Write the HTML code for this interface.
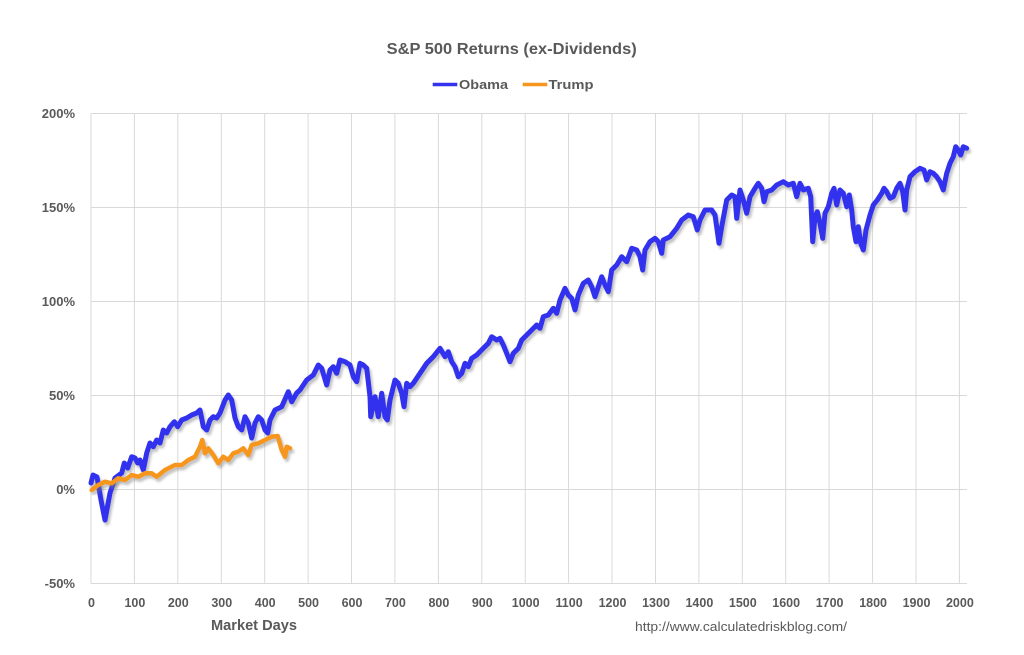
<!DOCTYPE html>
<html>
<head>
<meta charset="utf-8">
<style>
  html,body{margin:0;padding:0;background:#fff;}
  svg{display:block;}
  text{font-family:"Liberation Sans",Arial,sans-serif;fill:#595959;}
</style>
</head>
<body>
<svg width="1024" height="655" viewBox="0 0 1024 655" xmlns="http://www.w3.org/2000/svg">
  <defs>
    <filter id="sh" x="-5%" y="-5%" width="110%" height="115%">
      <feDropShadow dx="2" dy="3" stdDeviation="1.4" flood-color="#777" flood-opacity="0.45"/>
    </filter>
  </defs>
  <rect x="0" y="0" width="1024" height="655" fill="#fff"/>

  <!-- title -->
  <text x="511.7" y="54" text-anchor="middle" font-size="16" font-weight="bold" textLength="250" lengthAdjust="spacingAndGlyphs">S&amp;P 500 Returns (ex-Dividends)</text>

  <!-- legend -->
  <line x1="432.7" y1="84.5" x2="457.3" y2="84.5" stroke="#3333EE" stroke-width="3.5"/>
  <text x="459" y="89" font-size="13" font-weight="bold" textLength="49" lengthAdjust="spacingAndGlyphs">Obama</text>
  <line x1="522.7" y1="84.5" x2="547.3" y2="84.5" stroke="#F7961E" stroke-width="3.5"/>
  <text x="548.5" y="89" font-size="13" font-weight="bold" textLength="45" lengthAdjust="spacingAndGlyphs">Trump</text>

  <!-- grid -->
  <g stroke="#D9D9D9" stroke-width="1" fill="none">
    <line x1="91" y1="113.5" x2="967" y2="113.5"/>
    <line x1="91" y1="207.5" x2="967" y2="207.5"/>
    <line x1="91" y1="301.5" x2="967" y2="301.5"/>
    <line x1="91" y1="395.5" x2="967" y2="395.5"/>
    <line x1="91" y1="489.5" x2="967" y2="489.5"/>
    <line x1="91" y1="583.5" x2="967" y2="583.5"/>
    <line x1="91" y1="113.5" x2="91" y2="583.5"/>
    <line x1="134.4" y1="113.5" x2="134.4" y2="583.5"/>
    <line x1="177.8" y1="113.5" x2="177.8" y2="583.5"/>
    <line x1="221.3" y1="113.5" x2="221.3" y2="583.5"/>
    <line x1="264.7" y1="113.5" x2="264.7" y2="583.5"/>
    <line x1="308.1" y1="113.5" x2="308.1" y2="583.5"/>
    <line x1="351.5" y1="113.5" x2="351.5" y2="583.5"/>
    <line x1="394.9" y1="113.5" x2="394.9" y2="583.5"/>
    <line x1="438.4" y1="113.5" x2="438.4" y2="583.5"/>
    <line x1="481.8" y1="113.5" x2="481.8" y2="583.5"/>
    <line x1="525.2" y1="113.5" x2="525.2" y2="583.5"/>
    <line x1="568.6" y1="113.5" x2="568.6" y2="583.5"/>
    <line x1="612" y1="113.5" x2="612" y2="583.5"/>
    <line x1="655.5" y1="113.5" x2="655.5" y2="583.5"/>
    <line x1="698.9" y1="113.5" x2="698.9" y2="583.5"/>
    <line x1="742.3" y1="113.5" x2="742.3" y2="583.5"/>
    <line x1="785.7" y1="113.5" x2="785.7" y2="583.5"/>
    <line x1="829.1" y1="113.5" x2="829.1" y2="583.5"/>
    <line x1="872.6" y1="113.5" x2="872.6" y2="583.5"/>
    <line x1="916" y1="113.5" x2="916" y2="583.5"/>
    <line x1="959.4" y1="113.5" x2="959.4" y2="583.5"/>
  </g>

  <!-- y labels -->
  <g font-size="13" font-weight="bold" text-anchor="end">
    <text x="75" y="118">200%</text>
    <text x="75" y="212">150%</text>
    <text x="75" y="306">100%</text>
    <text x="75" y="400">50%</text>
    <text x="75" y="494">0%</text>
    <text x="75" y="588">-50%</text>
  </g>

  <!-- x labels -->
  <g font-size="12.5" font-weight="bold" text-anchor="middle">
    <text x="91.5" y="607">0</text>
    <text x="134.9" y="607">100</text>
    <text x="178.3" y="607">200</text>
    <text x="221.8" y="607">300</text>
    <text x="265.2" y="607">400</text>
    <text x="308.6" y="607">500</text>
    <text x="352" y="607">600</text>
    <text x="395.4" y="607">700</text>
    <text x="438.9" y="607">800</text>
    <text x="482.3" y="607">900</text>
    <text x="525.7" y="607">1000</text>
    <text x="569.1" y="607">1100</text>
    <text x="612.5" y="607">1200</text>
    <text x="656" y="607">1300</text>
    <text x="699.4" y="607">1400</text>
    <text x="742.8" y="607">1500</text>
    <text x="786.2" y="607">1600</text>
    <text x="829.6" y="607">1700</text>
    <text x="873.1" y="607">1800</text>
    <text x="916.5" y="607">1900</text>
    <text x="959.9" y="607">2000</text>
  </g>

  <text x="254" y="630" font-size="15" font-weight="bold" text-anchor="middle" textLength="86" lengthAdjust="spacingAndGlyphs">Market Days</text>
  <text x="635" y="631" font-size="13" textLength="212" lengthAdjust="spacingAndGlyphs">http://www.calculatedriskblog.com/</text>

  <!-- Obama -->
  <polyline filter="url(#sh)" fill="none" stroke="#3333EE" stroke-width="5" stroke-linejoin="round" stroke-linecap="round"
    points="91,483 93,475 97,477 101,500 105,520 110,493 115,478 121.7,473 124.3,463 127.7,468 131.7,456.7 135,458 137.7,463 140,460 143.3,470 146.7,453 150,443 153.3,446.7 156.7,440 160,443 163.3,430 166.7,433 170,426.7 174.3,421.7 177.7,426.7 181.7,420 186.7,418 191.7,415 196.7,413 200,410 203.3,426.7 206.7,430 210,420 213.3,416.7 216.7,418 220,413 225,400 228.3,395 231.7,400 235,418 238.3,426.7 241.7,430 245,416.7 248.3,423 251.7,438 255,423 258.3,416.7 261.7,420 265,430 267.7,433 270,420 275,410 281.7,406.7 288.3,391.7 291.7,401.7 296.7,393 300,390 306.7,380 313.3,375 318.3,365 321.7,368.3 326.7,385 330,370 333.3,366.7 336.7,373.3 340,360 345,361.7 350,365 353.3,376.7 356.7,381.7 360,363.3 363.3,365 366.7,368.3 370,396.7 370.7,416.7 375,396.7 378.3,416.7 381.7,393.3 385,416.7 387.3,420 390,400 395,380 398.3,383.3 401.7,393.3 404,406.7 406.7,383.3 410,386.7 413.3,383.3 420,373.3 426.7,363.3 433.3,356.7 440,348.3 445,356.7 448.3,351.7 451.7,361.7 455,366.7 458.3,376.7 461.7,373.3 465,363.3 468.3,366.7 471.7,358.3 476.7,355 483.3,348.3 488.3,343.3 491.7,336.7 496.7,340 500,338.3 503.3,345 506.7,353.3 510,361.7 513.3,353.3 518.3,348.3 521.7,340 526.7,335 531.7,330 536.7,325 540,328.3 543.3,316.7 548.3,315 553.3,308.3 556.7,313.3 560,300 565,288.3 568.3,295 571.7,298.3 575,310 578.3,295 583.3,283.3 588.3,280 591.7,286.7 595,296.7 598.3,286.7 601.7,276.7 605,285 608.3,291.7 611.7,270 616.7,265 621.7,256.7 626.7,261.7 631.7,248.3 636.7,250 640,256.7 642.7,270 645,250 650,241.7 655,238.3 658.3,241.7 661.7,253.3 663.3,240 670,236.7 676.7,228.3 681.7,220 688.3,215 693.3,216.7 697.3,230 700,220 705,210 711.7,210 715,215 719,243.3 721.7,226.7 726.7,200 731.7,195 735,196.7 736.7,218.3 740,190 743.3,200 746.7,213.3 750,196.7 755,188.3 758.3,183.3 761.7,188.3 764,201.7 766.7,191.7 771.7,190 776.7,185 783.3,181.7 788.3,185 793.3,183.3 796.7,196.7 800,183.3 803.3,190 808.3,188.3 810.7,196.7 812.7,241.7 815,216.7 817.3,211.7 820,223.3 822.7,238.3 825,213.3 828.3,206.7 831.7,193.3 834,188.3 836.7,205 840,190 843.3,193.3 846.7,206.7 849.3,195 851.7,210 853.3,226.7 856,241.7 858.3,226.7 860.7,243.3 863.3,250 866,230 870,215 873.3,205 877.3,200 881.7,193.3 884,188.3 886.7,191.7 890,198.3 893.3,196.7 896.7,188.3 900,183.3 902.7,191.7 905,210 906.7,190 910,176.7 915,171.7 920,168.3 924,170 926.7,180 930,171.7 933.3,173.3 936.7,176.7 940,181.7 943.3,190 946.7,173.3 950,163.3 953.3,156.7 955.7,146.7 958.3,150 960.7,155 963.3,146.7 966.7,148.3"/>

  <!-- Trump -->
  <polyline filter="url(#sh)" fill="none" stroke="#F7961E" stroke-width="4.5" stroke-linejoin="round" stroke-linecap="round"
    points="91.7,490 98.3,485 105,481.7 111.7,483.3 118.3,478.3 125,480 131.7,475 138.3,476.7 145,473.3 151.7,473.3 156.7,476.7 165,470 175,465 181.7,465 188.3,460 195,456.7 200,446.7 202.3,440 205,453.3 208.3,448.3 213.3,455 218.3,463.3 223.3,456.7 228.3,460 233.3,453.3 238.3,451.7 243.3,448.3 248.3,455 251.7,445 258.3,443.3 265,440 271.7,436.7 277.7,436 281.7,450 285,456.7 286.7,446.7 290,448.3"/>
</svg>
</body>
</html>
